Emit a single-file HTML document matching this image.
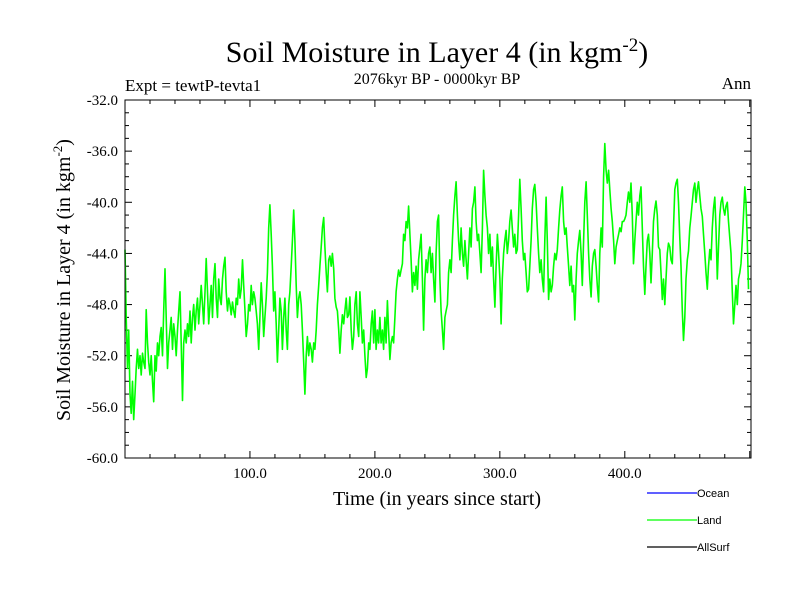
<!DOCTYPE html>
<html><head><meta charset="utf-8"><style>
body{margin:0;background:#fff;}
svg{display:block;}
text{font-family:"Liberation Serif",serif;fill:#000;}
.sans{font-family:"Liberation Sans",sans-serif;}
</style></head><body>
<svg id="chart" width="800" height="600" viewBox="0 0 800 600">
<rect width="800" height="600" fill="#fff"/>
<text x="437" y="62" font-size="30" text-anchor="middle">Soil Moisture in Layer 4 (in kgm<tspan dy="-11" font-size="19">-2</tspan><tspan dy="11">)</tspan></text>
<text x="437" y="84" font-size="16" text-anchor="middle">2076kyr BP - 0000kyr BP</text>
<text x="125" y="91" font-size="17">Expt = tewtP-tevta1</text>
<text x="751" y="89" font-size="17" text-anchor="end">Ann</text>
<g id="yticks"></g>
<g id="xticks"></g>
<polyline id="land" fill="none" stroke="#00ff00" stroke-width="1.6" stroke-linejoin="round"/>
<rect x="125" y="100" width="626" height="358" fill="none" stroke="#000" stroke-width="1"/>
<text x="437" y="505" font-size="20" text-anchor="middle">Time (in years since start)</text>
<text transform="translate(70,280) rotate(-90)" font-size="20" text-anchor="middle">Soil Moisture in Layer 4 (in kgm<tspan dy="-8" font-size="13">-2</tspan><tspan dy="8">)</tspan></text>
<g>
<g><line x1="647" y1="493" x2="697" y2="493" stroke="#0000ff" stroke-width="1.3"/><text class="sans" x="697" y="497" font-size="11">Ocean</text></g>
<g><line x1="647" y1="520" x2="697" y2="520" stroke="#00ff00" stroke-width="1.3"/><text class="sans" x="697" y="524" font-size="11">Land</text></g>
<g><line x1="647" y1="547" x2="697" y2="547" stroke="#000" stroke-width="1.3"/><text class="sans" x="697" y="551" font-size="11">AllSurf</text></g>
</g>
</svg>
<script>
const yTickValues=[-32,-36,-40,-44,-48,-52,-56,-60];
const yTickLabels=["-32.0","-36.0","-40.0","-44.0","-48.0","-52.0","-56.0","-60.0"];
const xTickValues=[100,200,300,400];
const xTickLabels=["100.0","200.0","300.0","400.0"];
const landValues=[-43.7,-49,-53,-50,-55,-56.5,-54,-57,-55,-53,-51.5,-53,-52,-53.5,-51.8,-52.5,-53,-48.4,-51,-52.5,
-53.5,-52,-54,-55.6,-52,-53.2,-51,-52,-50.5,-49.8,-52,-48.5,-45.2,-49,-53,-51,-50,-49,-51.5,-49.5,
-50.5,-52,-50,-48.5,-47,-51,-55.5,-51,-50,-51,-49.5,-50.5,-48.5,-51,-49,-48,-50,-48.5,-47.5,-49.5,
-48,-46.5,-48,-49.5,-47,-44.4,-47,-49.5,-48,-46.5,-49,-46,-44.8,-47.5,-49,-46,-47.5,-48,-46,-45,
-44.3,-47,-48.5,-47.5,-48,-48.8,-47.8,-48.5,-49,-47.5,-48,-46,-47.5,-46.8,-44.5,-46.5,-48.5,-50.5,-49.5,-48,
-48.5,-46.5,-48,-47,-47.5,-48.5,-49.5,-51.5,-49,-46.3,-48,-50.5,-49,-47.5,-45.5,-42,-40.2,-42.5,-45,-48.5,
-47,-49.5,-52.5,-50,-47.5,-48.5,-51.5,-49,-47.5,-50,-51.5,-48,-47,-45,-43,-40.6,-43,-46.5,-49,-47.5,
-47,-48,-50,-52.5,-55,-52,-50.5,-52,-51,-51.5,-52.5,-51,-51.5,-50,-48,-46.5,-45,-43.5,-42,-41.2,
-43.5,-45.5,-47,-44.5,-44.2,-45,-44,-45.2,-47.5,-48.2,-48.5,-50,-51.8,-50,-48.8,-49.5,-48.5,-47.5,-49,-48.8,
-47.4,-50,-51.5,-50.5,-48,-47,-49.5,-50.5,-47,-49,-51,-50,-52,-53.7,-53,-51,-51.5,-49.5,-48.5,-51,
-48.4,-51.5,-50,-51,-49,-51,-50,-51.5,-49,-51,-47.7,-50,-52.3,-51,-50.5,-51,-49,-47,-46,-45.3,
-45.8,-45.3,-44.8,-42.5,-43,-41.5,-42,-40.3,-42.5,-44.5,-47,-45.5,-46.5,-45,-46.8,-44.5,-43.5,-42.5,-46,-50,
-46,-44.5,-45.5,-44,-43.5,-45.5,-44,-46,-47.8,-44,-41.5,-41,-46,-48.5,-50,-51.5,-49,-48.5,-48,-45.5,
-44.5,-45.5,-43,-41,-39.5,-38.4,-41,-43,-44.5,-42,-44,-45,-43,-44.5,-46,-44,-42,-43.5,-40.5,-40,
-38.8,-41.5,-43,-42.5,-44,-45.5,-42,-37.5,-39.5,-41,-42,-44,-42.5,-45,-43.5,-46,-48.2,-45,-42.5,-44,
-46,-49.5,-46,-44,-43,-42.2,-44,-43,-41.5,-40.6,-42,-43.5,-42.5,-44,-43.7,-41,-38.2,-40.5,-43,-44.5,
-44,-45.5,-47,-46.8,-45,-43,-40.5,-39,-38.6,-40,-42,-44,-45.5,-44.5,-46,-47,-43,-39.6,-43,-47.6,
-46,-47,-46.5,-45,-44,-44.5,-43.7,-42,-40.6,-39.5,-38.8,-41.5,-42.5,-42,-43.5,-45,-46.5,-45,-47,-46.5,
-49.2,-46,-44,-43,-42.2,-44,-46.5,-43,-40,-38.4,-41,-44,-46,-47.4,-45,-44,-43.7,-45,-46.5,-47.8,
-44,-42,-43.5,-38,-35.4,-37.5,-38.5,-37.5,-39,-40.5,-41.5,-43,-44.8,-43.5,-43,-42.5,-42,-42.3,-41.5,-41.5,
-41.3,-41,-40,-39.2,-40,-38.5,-41,-44.8,-43,-41.5,-40,-41,-39.5,-38.8,-42,-45,-47.2,-45,-43,-42.5,
-44,-46.3,-44,-41.5,-40.5,-39.9,-41,-43.5,-43.7,-45.5,-47.6,-46,-48,-46,-44,-43.2,-43.5,-44.5,-44.8,-42,
-39,-38.5,-38.2,-40,-42.8,-45,-48.5,-50.8,-49,-46,-44.5,-43.8,-42,-41.1,-40,-39,-38.5,-40,-39,-38.4,
-39.5,-40.5,-41.1,-42.5,-44,-45.5,-46.8,-45,-43.7,-44.5,-42,-40.5,-39.6,-42,-46,-43.5,-41,-40,-39.6,-40.5,
-41,-40.3,-40,-41.5,-42.8,-44,-47,-49.5,-48,-46.5,-48,-46,-45.5,-44.8,-43,-41,-38.8,-40,-43,-46.8];
const landYears=landValues.map((v,i)=>i);

const X0=125,X1=751,Y0=100,Y1=458,XMIN=0,XMAX=501,YMIN=-60,YMAX=-32;
function xs(t){return X0+(t-XMIN)/(XMAX-XMIN)*(X1-X0);}
function ys(v){return Y1-(v-YMIN)/(YMAX-YMIN)*(Y1-Y0);}
const NS="http://www.w3.org/2000/svg";
function mk(tag,attrs,parent){const e=document.createElementNS(NS,tag);for(const k in attrs)e.setAttribute(k,attrs[k]);parent.appendChild(e);return e;}

const yg=document.getElementById('yticks');
for(let v=YMIN;v<=YMAX;v+=1){
  const major=(v%4===0);const L=major?7:4;const y=ys(v);
  const t1=mk('line',{x1:X0,x2:X0+L,y1:y,y2:y,stroke:'#000','stroke-width':1},yg);
  
  
  const t2=mk('line',{x1:X1-L,x2:X1,y1:y,y2:y,stroke:'#000','stroke-width':1},yg);
  
  
}
yTickValues.forEach((v,i)=>{
  const t=mk('text',{x:118,y:ys(v)+5,'font-size':15,'text-anchor':'end'},yg);
  t.textContent=yTickLabels[i];
  
  
});
const xg=document.getElementById('xticks');
for(let t=20;t<XMAX;t+=20){
  const major=(t%100===0);const L=major?7:4;const x=xs(t);
  const a=mk('line',{x1:x,x2:x,y1:Y1,y2:Y1-L,stroke:'#000','stroke-width':1},xg);
  
  
  const b=mk('line',{x1:x,x2:x,y1:Y0,y2:Y0+L,stroke:'#000','stroke-width':1},xg);
  
  
}
xTickValues.forEach((v,i)=>{
  const t=mk('text',{x:xs(v),y:478,'font-size':15,'text-anchor':'middle'},xg);
  t.textContent=xTickLabels[i];
  
  
});
document.getElementById('land').setAttribute('points',landValues.map((v,i)=>xs(landYears[i]).toFixed(1)+','+ys(v).toFixed(1)).join(' '));
</script>
</body></html>
